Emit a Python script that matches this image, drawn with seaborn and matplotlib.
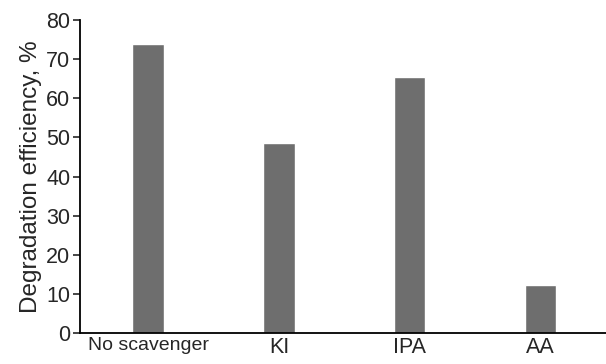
import pandas as pd
import matplotlib.pyplot as plt
import seaborn as sns

# data
scavengers = ['No scavenger', 'KI', 'IPA', 'AA']
efficiency = [73.8, 48.6, 65.5, 12.3]
yticks = [0, 10, 20, 30, 40, 50, 60, 70, 80]

df = pd.DataFrame({'scavenger': scavengers, 'efficiency': efficiency})

sns.set_style('ticks')
plt.rcParams['font.family'] = ['Liberation Sans', 'DejaVu Sans']

fig = plt.figure(figsize=(6.06, 3.64), dpi=100)
ax = fig.add_axes([0.132, 0.085, 0.868, 0.86])

sns.barplot(data=df, x='scavenger', y='efficiency', color='#6e6e6e',
            saturation=1, width=0.24, ax=ax)

ax.set_xlim(-0.52, 3.5)
ax.set_ylim(0, 80)
ax.set_yticks(yticks)
ax.tick_params(axis='y', labelsize=15.5, length=5, width=1.2, direction='out', pad=2)
ax.tick_params(axis='x', labelsize=14, length=0, pad=3)
for lbl in ax.get_xticklabels():
    if lbl.get_text() != 'No scavenger':
        lbl.set_fontsize(15.5)

ax.set_xlabel('')
ax.set_ylabel('Degradation efficiency, %', fontsize=17.5, labelpad=3)

for side in ['top', 'right']:
    ax.spines[side].set_visible(False)
for side in ['left', 'bottom']:
    ax.spines[side].set_linewidth(1.3)
    ax.spines[side].set_color('black')

plt.savefig('out.png', dpi=100)
